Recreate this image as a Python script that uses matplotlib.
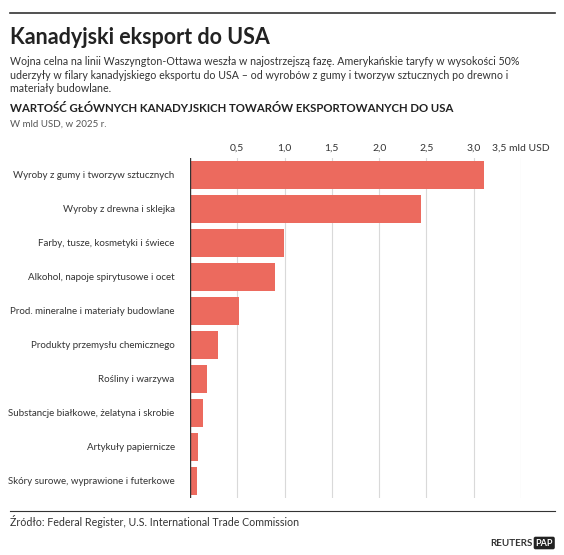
import matplotlib.pyplot as plt
import matplotlib

matplotlib.rcParams['font.family'] = ['Lato', 'DejaVu Sans']

categories = [
    "Wyroby z gumy i tworzyw sztucznych",
    "Wyroby z drewna i sklejka",
    "Farby, tusze, kosmetyki i świece",
    "Alkohol, napoje spirytusowe i ocet",
    "Prod. mineralne i materiały budowlane",
    "Produkty przemysłu chemicznego",
    "Rośliny i warzywa",
    "Substancje białkowe, żelatyna i skrobie",
    "Artykuły papiernicze",
    "Skóry surowe, wyprawione i futerkowe",
]
values = [3.11, 2.44, 0.99, 0.90, 0.52, 0.30, 0.18, 0.14, 0.08, 0.07]
ticks = [0.5, 1.0, 1.5, 2.0, 2.5, 3.0, 3.5]
tick_labels = ["0,5", "1,0", "1,5", "2,0", "2,5", "3,0", "3,5 mld USD"]

W, H = 564, 555
fig = plt.figure(figsize=(W / 100, H / 100), dpi=100)

ax = fig.add_axes([190 / W, 1 - 498 / H, (521 - 190) / W, (498 - 158) / H])
y = range(len(categories))
ax.barh(y, values, height=0.84, color='#ec6a5e', zorder=3)
ax.set_ylim(len(categories) - 0.5, -0.5)
ax.set_xlim(0, 3.5)
ax.set_yticks(list(y))
ax.set_yticklabels(categories, fontsize=7, color='#333333')
ax.set_xticks(ticks)
ax.set_xticklabels(tick_labels, fontsize=7.5, color='#333333')
ax.xaxis.tick_top()
ax.tick_params(length=0, pad=11)
ax.tick_params(axis='x', pad=4)
labels = ax.get_xticklabels()
labels[-1].set_ha('left')
labels[-1].set_x(3.5)
for t in ax.get_xticklabels()[-1:]:
    t.set_horizontalalignment('center')
ax.grid(axis='x', color='#d9d9d9', lw=0.8, zorder=0)
for s in ax.spines.values():
    s.set_visible(False)
ax.axvline(0, color='#333333', lw=1, zorder=4)

# headers
fig.add_artist(plt.Line2D([10 / W, 555 / W], [1 - 13 / H] * 2, color='#333333', lw=1.2))
fig.text(10 / W, 1 - 38 / H, "Kanadyjski eksport do USA", fontsize=15.5, fontweight='bold',
         color='#222222', va='center')
fig.text(10 / W, 1 - 56 / H,
         "Wojna celna na linii Waszyngton-Ottawa weszła w najostrzejszą fazę. Amerykańskie taryfy w wysokości 50%\n"
         "uderzyły w filary kanadyjskiego eksportu do USA – od wyrobów z gumy i tworzyw sztucznych po drewno i\n"
         "materiały budowlane.",
         fontsize=7.7, color='#333333', va='top', linespacing=1.3)
fig.text(10 / W, 1 - 108 / H, "WARTOŚĆ GŁÓWNYCH KANADYJSKICH TOWARÓW EKSPORTOWANYCH DO USA",
         fontsize=8.2, fontweight='bold', color='#222222', va='center')
fig.text(10 / W, 1 - 124 / H, "W mld USD, w 2025 r.", fontsize=7, color='#555555', va='center')

fig.add_artist(plt.Line2D([10 / W, 555 / W], [1 - 511 / H] * 2, color='#333333', lw=0.8))
fig.text(10 / W, 1 - 522 / H, "Źródło: Federal Register, U.S. International Trade Commission",
         fontsize=7.7, color='#333333', va='center')
fig.text(533 / W, 1 - 543 / H, "REUTERS", fontsize=7, fontweight='bold', color='#333333',
         va='center', ha='right')
fig.text(553 / W, 1 - 543 / H, "PAP", fontsize=6.5, fontweight='bold', color='white', va='center',
         ha='right', bbox=dict(boxstyle='round,pad=0.2', fc='#222222', ec='none'))

fig.savefig("out.png", dpi=100)
